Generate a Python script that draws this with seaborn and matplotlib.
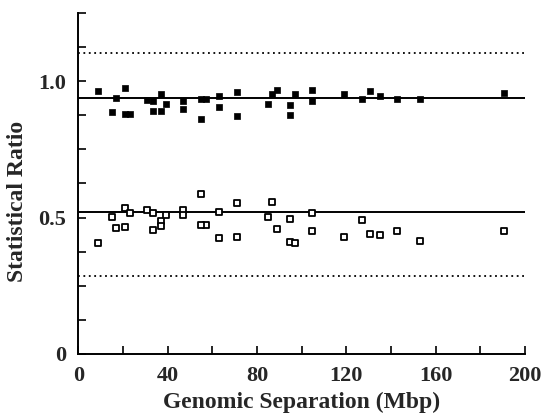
import numpy as np
import pandas as pd
import matplotlib
matplotlib.use("Agg")
import matplotlib.pyplot as plt
import seaborn as sns

# genomic separation (Mbp), shared by both series
separation = [9.0, 14.9, 16.9, 21.0, 21.0, 23.1, 30.9, 33.3, 33.2, 37.0, 37.0, 39.1,
              46.7, 46.7, 54.9, 57.0, 54.9, 63.1, 63.1, 70.9, 70.9, 84.9, 86.7, 88.8,
              94.7, 94.7, 97.0, 104.6, 104.6, 118.9, 127.0, 130.8, 135.0, 142.7, 152.9, 190.6]
upper_ratio = [0.964, 0.886, 0.939, 0.975, 0.882, 0.882, 0.931, 0.929, 0.893, 0.955, 0.891, 0.917,
               0.927, 0.898, 0.935, 0.935, 0.861, 0.948, 0.906, 0.961, 0.872, 0.917, 0.953, 0.970,
               0.913, 0.875, 0.955, 0.969, 0.927, 0.955, 0.934, 0.966, 0.948, 0.934, 0.934, 0.959]
lower_ratio = [0.405, 0.501, 0.463, 0.534, 0.466, 0.518, 0.529, 0.515, 0.454, 0.487, 0.468, 0.510,
               0.527, 0.510, 0.588, 0.473, 0.473, 0.522, 0.423, 0.554, 0.429, 0.501, 0.556, 0.457,
               0.496, 0.411, 0.405, 0.515, 0.449, 0.430, 0.491, 0.441, 0.434, 0.449, 0.413, 0.449]
mean_lines = [0.939, 0.521]
bound_lines = [1.104, 0.284]
x_ticks = [0, 40, 80, 120, 160, 200]
y_ticks = [0, 0.5, 1.0]
y_labels = ['0', '0.5', '1.0']

df = pd.DataFrame({'sep': separation, 'upper': upper_ratio, 'lower': lower_ratio})

sns.set_style("ticks")
plt.rcParams['font.family'] = ['Liberation Serif', 'DejaVu Serif']
plt.rcParams['font.weight'] = 'bold'

fig = plt.figure(figsize=(5.48, 4.17), dpi=100)
ax = fig.add_axes([0.143, 0.152, 0.815, 0.816])

for v in mean_lines:
    ax.axhline(v, color='black', lw=1.4, zorder=1)
for v in bound_lines:
    ax.axhline(v, color='black', lw=1.3, ls=(0, (1, 2)), zorder=1)

sns.scatterplot(data=df, x='sep', y='upper', ax=ax, marker='s', s=20,
                color='black', edgecolor='black', linewidth=0.5, zorder=3)
sns.scatterplot(data=df, x='sep', y='lower', ax=ax, marker='s', s=18,
                facecolor='white', edgecolor='black', linewidth=1.3, zorder=3)

ax.set_xlim(0, 200)
ax.set_ylim(0, 1.25)
ax.set_xticks(x_ticks)
ax.set_xticks(np.arange(20, 200, 40), minor=True)
ax.set_yticks(y_ticks, labels=y_labels)
ax.set_yticks(np.arange(0, 1.26, 0.125), minor=True)
ax.tick_params(which='both', direction='in', length=6, width=1.2, color='black')
ax.tick_params(axis='both', which='major', labelsize=16, pad=9)

sns.despine(ax=ax)
for sp in ['left', 'bottom']:
    ax.spines[sp].set_linewidth(1.4)
    ax.spines[sp].set_color('black')

ax.set_xlabel('Genomic Separation (Mbp)', fontsize=17, fontweight='bold', labelpad=4)
ax.set_ylabel('Statistical Ratio', fontsize=17, fontweight='bold')
ax.yaxis.set_label_coords(-0.113, 0.446)

for lab in ax.get_xticklabels() + ax.get_yticklabels():
    lab.set_fontweight('heavy')

fig.savefig('out.png', dpi=100)
